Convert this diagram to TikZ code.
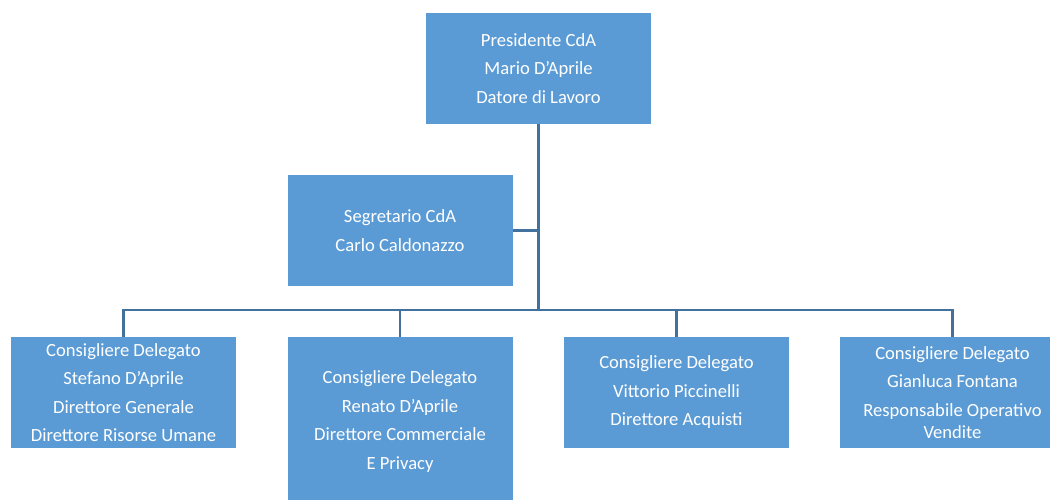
\documentclass[tikz,border=0pt]{standalone}
\usepackage{fontspec}
\setmainfont{Carlito}
\usepackage{tikz}
\definecolor{boxblue}{HTML}{5B9BD5}
\definecolor{lineblue}{HTML}{41719C}
\tikzset{
    orgbox/.style={fill=boxblue, text=white, minimum width=225pt, minimum height=111pt,
        align=center, inner sep=0pt, font=\fontsize{18.6}{28.5}\selectfont},
    orgline/.style={draw=lineblue, line width=2.4pt}
}

\begin{document}
\begin{tikzpicture}[x=1pt, y=-1pt]
    \useasboundingbox(0, 0) rectangle (1050, 500);
    \node[orgbox](pres)at(538.5, 68.5){Presidente CdA\\Mario D’Aprile\\Datore di Lavoro};
    \node[orgbox](segr)at(400, 230.5){Segretario CdA\\Carlo Caldonazzo};
    \node[orgbox](cd1)at(123.5, 392.5){Consigliere Delegato\\Stefano D’Aprile\\Direttore Generale\\Direttore Risorse Umane};
    \node[orgbox, minimum height=169pt](cd2)at(400, 421.5){Consigliere Delegato\\Renato D’Aprile\\Direttore Commerciale\\E Privacy};
    \node[orgbox](cd3)at(676.5, 392.5){Consigliere Delegato\\Vittorio Piccinelli\\Direttore Acquisti};
    \node[orgbox](cd4)at(952.5, 392.5){Consigliere Delegato\\Gianluca Fontana\\Responsabile Operativo\\[-6pt]Vendite};
    \coordinate(bus)at(538.5, 310);
    \draw[orgline](pres.south)--(bus);
    \draw[orgline](segr.east)--(segr.east-|bus);
    \draw[orgline](cd1.north)--(cd1.north|-bus)--(cd4.north|-bus)--(cd4.north);
    \foreach \n in {cd2, cd3}
        \draw[orgline](\n.north)--(\n.north|-bus);
\end{tikzpicture}
\end{document}
